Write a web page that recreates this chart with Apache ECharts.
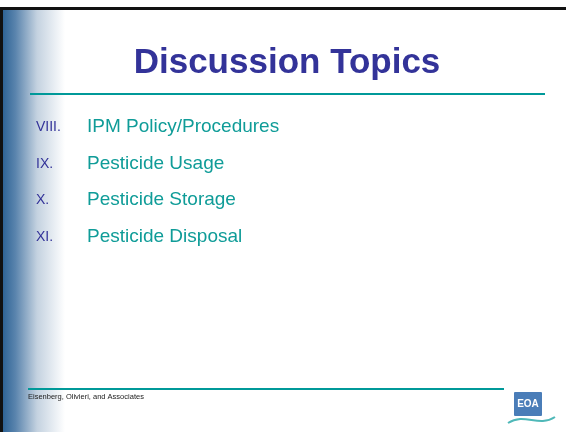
<!DOCTYPE html>
<html>
<head>
<meta charset="utf-8">
<script src="https://cdn.jsdelivr.net/npm/echarts@6/dist/echarts.min.js"></script>
<style>
  html, body { margin: 0; padding: 0; background: #fff; }
  #main { width: 566px; height: 432px; }
</style>
</head>
<body>
<div id="main"></div>
<script>
var title = 'Discussion Topics';
var numerals = ['VIII.', 'IX.', 'X.', 'XI.'];
var topics = ['IPM Policy/Procedures', 'Pesticide Usage', 'Pesticide Storage', 'Pesticide Disposal'];
var footer = 'Eisenberg, Olivieri, and Associates';

var chart = echarts.init(document.getElementById('main'));

var elements = [];

// slide frame: left gradient bar and black border
elements.push({
  type: 'rect',
  shape: { x: 3, y: 10, width: 62, height: 422 },
  style: {
    fill: new echarts.graphic.LinearGradient(0, 0, 1, 0, [
      { offset: 0, color: '#2f6496' },
      { offset: 0.2, color: '#5a84ad' },
      { offset: 0.55, color: '#c4d2e0' },
      { offset: 1, color: '#ffffff' }
    ])
  }
});
elements.push({ type: 'rect', shape: { x: 0, y: 7, width: 566, height: 3 }, style: { fill: '#111' } });
elements.push({ type: 'rect', shape: { x: 0, y: 7, width: 3, height: 425 }, style: { fill: '#111' } });

// title + rule
elements.push({
  type: 'text', x: 287, y: 63,
  style: { text: title, fill: '#333399', font: 'bold 35px Arial, "Liberation Sans", sans-serif', align: 'center', verticalAlign: 'middle' }
});
elements.push({ type: 'line', shape: { x1: 30, y1: 94, x2: 545, y2: 94 }, style: { stroke: '#009999', lineWidth: 2 } });

// list
var rowY = [127, 164, 200, 237];
for (var i = 0; i < topics.length; i++) {
  elements.push({
    type: 'text', x: 36, y: rowY[i],
    style: { text: numerals[i], fill: '#333399', font: '14px Arial, "Liberation Sans", sans-serif', verticalAlign: 'middle' }
  });
  elements.push({
    type: 'text', x: 87, y: rowY[i],
    style: { text: topics[i], fill: '#0f9c98', font: '19px Arial, "Liberation Sans", sans-serif', verticalAlign: 'middle' }
  });
}

// footer
elements.push({ type: 'line', shape: { x1: 28, y1: 389, x2: 504, y2: 389 }, style: { stroke: '#009999', lineWidth: 2 } });
elements.push({
  type: 'text', x: 28, y: 397,
  style: { text: footer, fill: '#222', font: '7.5px "Liberation Sans", Arial, sans-serif', verticalAlign: 'middle' }
});

// logo
elements.push({ type: 'rect', shape: { x: 514, y: 392, width: 28, height: 24, r: 1 }, style: { fill: '#4a7db8' } });
elements.push({
  type: 'text', x: 528, y: 404,
  style: { text: 'EOA', fill: '#ffffff', font: 'bold 10px Arial, sans-serif', align: 'center', verticalAlign: 'middle' }
});
elements.push({
  type: 'bezierCurve',
  shape: { x1: 508, y1: 423, x2: 555, y2: 417, cpx1: 525, cpy1: 412, cpx2: 538, cpy2: 428 },
  style: { stroke: '#4fb8b8', lineWidth: 2, fill: null }
});

chart.setOption({
  backgroundColor: '#ffffff',
  animation: false,
  graphic: { elements: elements }
});
</script>
</body>
</html>
